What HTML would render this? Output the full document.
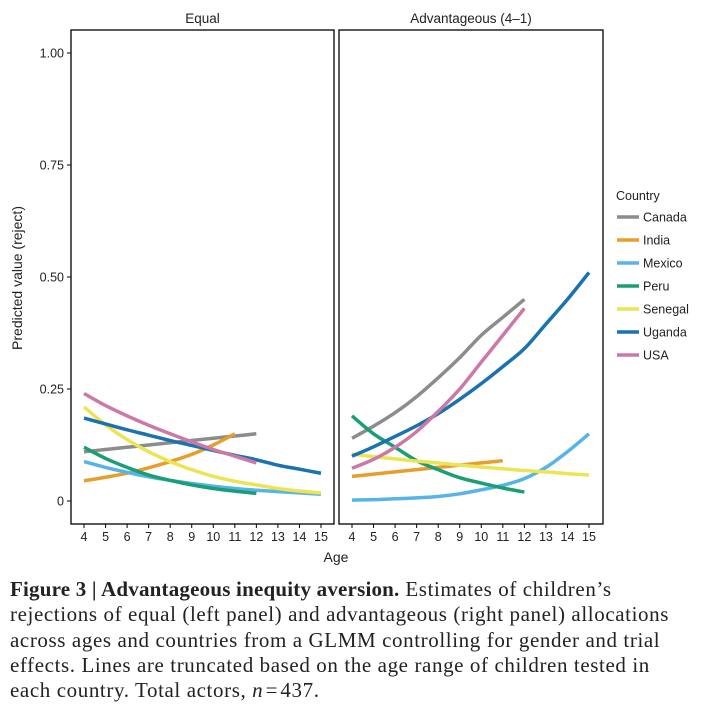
<!DOCTYPE html>
<html><head><meta charset="utf-8"><style>
body{margin:0;background:#fff;width:707px;height:718px;overflow:hidden;font-family:"Liberation Sans",sans-serif}
#cap{position:absolute;left:10px;top:577px;width:700px;font-family:"Liberation Serif",serif;font-size:21px;letter-spacing:0.6px;line-height:25.3px;color:#222;white-space:nowrap}
</style></head><body>
<svg id="chart" width="707" height="570" style="position:absolute;left:0;top:0" font-family="Liberation Sans, sans-serif"></svg>
<div id="cap"><b style="letter-spacing:0.2px">Figure 3 | Advantageous inequity aversion.</b> Estimates of children’s<br>rejections of equal (left panel) and advantageous (right panel) allocations<br>across ages and countries from a GLMM controlling for gender and trial<br>effects. Lines are truncated based on the age range of children tested in<br>each country. Total actors, <i>n</i>&#8202;=&#8202;437.</div>
<script>
const countries=["Canada","India","Mexico","Peru","Senegal","Uganda","USA"];
const colors=["#8c8c8c","#e69f2b","#56b4e9","#1a9e74","#ece453","#1a72b0","#cc79a7"];
const ages=[4,5,6,7,8,9,10,11,12,13,14,15];
const yTicks=[0,0.25,0.5,0.75,1.0];
const yTickLabels=["0","0.25","0.50","0.75","1.00"];
// Equal panel (per age 4..; truncated)
const eqCanada=[0.11,0.115,0.12,0.125,0.13,0.135,0.14,0.145,0.15];
const eqIndia=[0.045,0.053,0.062,0.074,0.088,0.104,0.125,0.15];
const eqMexico=[0.088,0.075,0.064,0.054,0.046,0.039,0.033,0.028,0.024,0.021,0.018,0.015];
const eqPeru=[0.12,0.095,0.075,0.058,0.046,0.036,0.028,0.022,0.017];
const eqSenegal=[0.21,0.17,0.137,0.11,0.088,0.07,0.055,0.044,0.036,0.028,0.022,0.018];
const eqUganda=[0.185,0.172,0.159,0.147,0.135,0.124,0.113,0.102,0.092,0.08,0.071,0.062];
const eqUSA=[0.24,0.213,0.19,0.169,0.15,0.132,0.115,0.1,0.085];
// Advantageous panel
const advCanada=[0.14,0.167,0.197,0.233,0.275,0.32,0.37,0.41,0.45];
const advIndia=[0.055,0.06,0.065,0.07,0.075,0.08,0.085,0.09];
const advMexico=[0.002,0.003,0.005,0.007,0.01,0.016,0.025,0.035,0.05,0.075,0.11,0.15];
const advPeru=[0.19,0.15,0.12,0.09,0.07,0.052,0.04,0.029,0.02];
const advSenegal=[0.105,0.099,0.094,0.089,0.085,0.08,0.076,0.072,0.068,0.065,0.061,0.058];
const advUganda=[0.1,0.121,0.144,0.168,0.195,0.227,0.262,0.3,0.34,0.395,0.45,0.51];
const advUSA=[0.073,0.093,0.12,0.155,0.2,0.25,0.31,0.37,0.43];
const eqSeries=[eqCanada,eqIndia,eqMexico,eqPeru,eqSenegal,eqUganda,eqUSA];
const advSeries=[advCanada,advIndia,advMexico,advPeru,advSenegal,advUganda,advUSA];

const svg=document.getElementById('chart');const NS="http://www.w3.org/2000/svg";
function mk(t,a,txt){const e=document.createElementNS(NS,t);for(const k in a)e.setAttribute(k,a[k]);if(txt!==undefined)e.textContent=txt;svg.appendChild(e);return e;}
const y=v=>501-v*448;
function smooth(P){let d="M"+P[0][0]+","+P[0][1];for(let i=0;i<P.length-1;i++){const p0=P[i-1]||P[i],p1=P[i],p2=P[i+1],p3=P[i+2]||p2;
 const c1=[p1[0]+(p2[0]-p0[0])/6,p1[1]+(p2[1]-p0[1])/6],c2=[p2[0]-(p3[0]-p1[0])/6,p2[1]-(p3[1]-p1[1])/6];
 d+=" C"+c1[0]+","+c1[1]+" "+c2[0]+","+c2[1]+" "+p2[0]+","+p2[1];}return d;}
const panels=[{x0:71,x1:334,ax:84,bx:321,title:"Equal",data:eqSeries,name:"equal"},{x0:339,x1:603,ax:352,bx:589,title:"Advantageous (4–1)",data:advSeries,name:"advantageous"}];
panels.forEach(p=>{
  const x=a=>p.ax+(a-4)*(p.bx-p.ax)/11;
  let r=mk('rect',{x:p.x0,y:30,width:p.x1-p.x0,height:494,fill:"none",stroke:"#000","stroke-width":1.3});
  
  let t=mk('text',{x:(p.x0+p.x1)/2,y:23,"text-anchor":"middle","font-size":13.5,fill:"#222"},p.title);
  
  ages.forEach(a=>{
    mk('line',{x1:x(a),x2:x(a),y1:524,y2:528,stroke:"#000"});
    let l=mk('text',{x:x(a),y:541,"text-anchor":"middle","font-size":12.5,fill:"#222"},a);
    
  });
  p.data.forEach((s,i)=>{
    const P=s.map((v,j)=>[x(ages[j]),y(v)]);
    let pl=mk('path',{d:smooth(P),fill:"none",stroke:colors[i],"stroke-width":3.5});
    
  });
});
yTicks.forEach((v,i)=>{
  mk('line',{x1:67,x2:71,y1:y(v),y2:y(v),stroke:"#000"});
  let l=mk('text',{x:64,y:y(v)+4.5,"text-anchor":"end","font-size":12.5,fill:"#222"},yTickLabels[i]);
  
});
let yt=mk('text',{x:0,y:0,transform:"translate(22,278) rotate(-90)","text-anchor":"middle","font-size":14,fill:"#222"},"Predicted value (reject)");

let xt=mk('text',{x:336,y:562,"text-anchor":"middle","font-size":14,fill:"#222"},"Age");

let lt=mk('text',{x:616,y:200,"font-size":12.5,fill:"#222"},"Country");

countries.forEach((c,i)=>{
  const yy=217+i*23;
  let ln=mk('line',{x1:617,x2:639,y1:yy,y2:yy,stroke:colors[i],"stroke-width":3.5});
  
  let tx=mk('text',{x:643,y:yy+4.5,"font-size":12.5,fill:"#222"},c);
  
});
</script>
</body></html>
